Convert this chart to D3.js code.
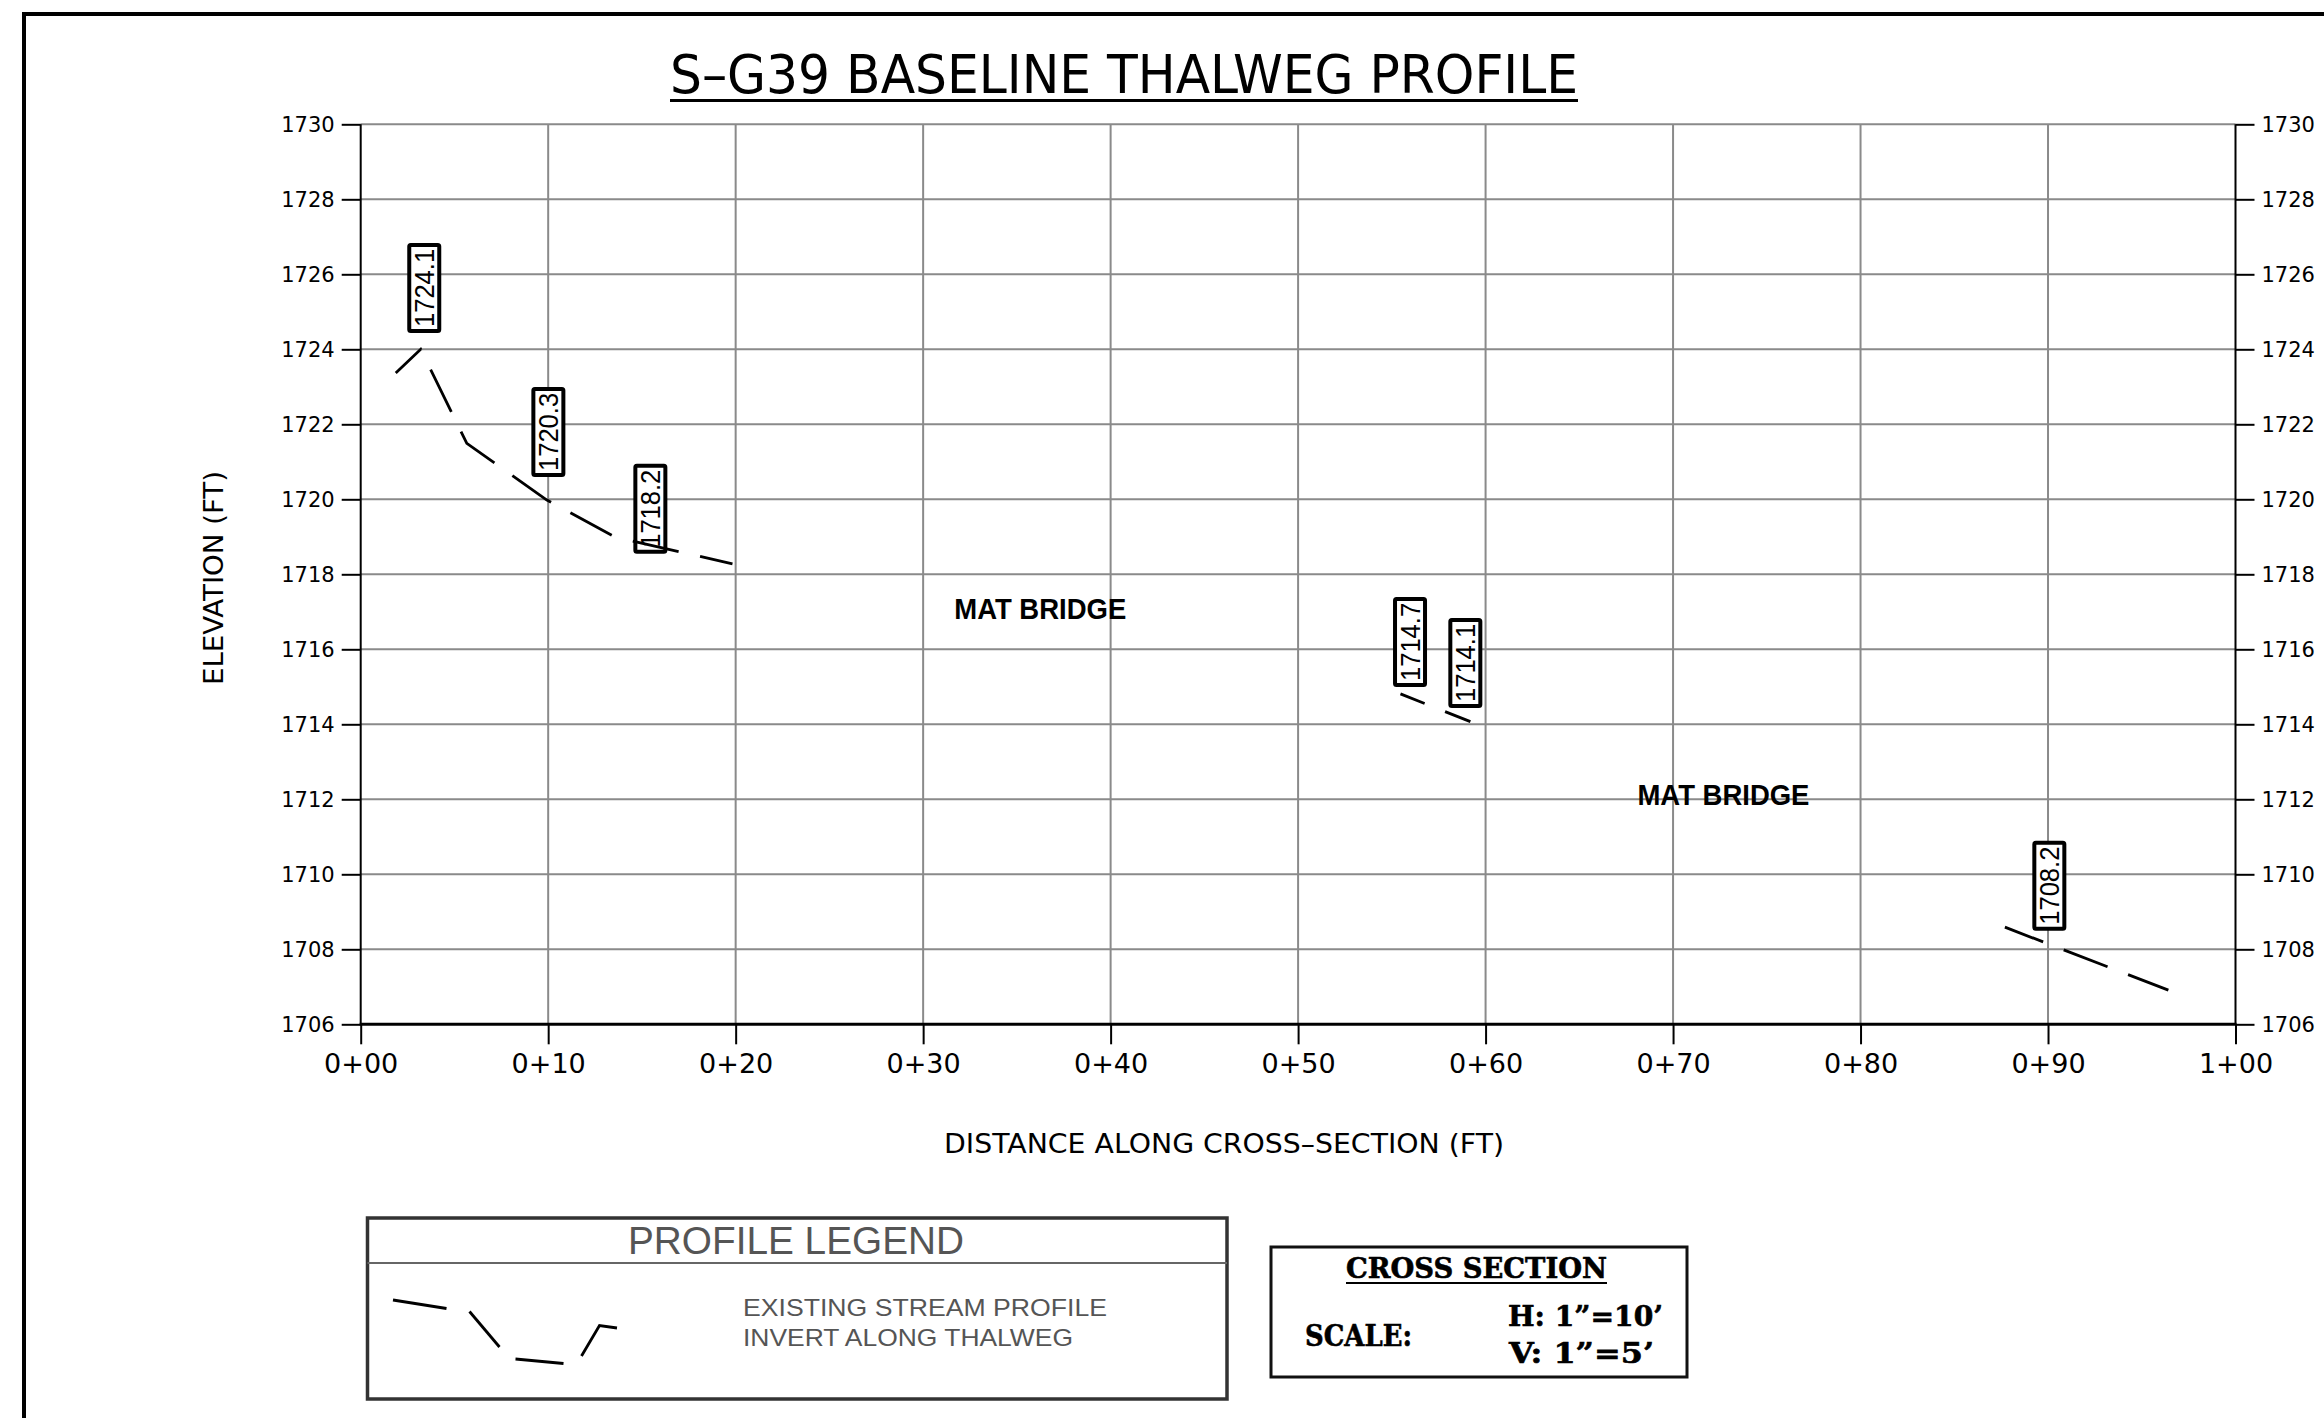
<!DOCTYPE html>
<html>
<head>
<meta charset="utf-8">
<script src="https://cdn.jsdelivr.net/npm/d3@7/dist/d3.min.js"></script>
<style>
  html, body { margin: 0; padding: 0; background: #fff; }
  svg { display: block; }
</style>
</head>
<body>
<svg id="chart"></svg>
<script>
const W = 2324, H = 1418;

// axis ticks
const elevTicks = [1706, 1708, 1710, 1712, 1714, 1716, 1718, 1720, 1722, 1724, 1726, 1728, 1730];
const stationTicks = [0, 10, 20, 30, 40, 50, 60, 70, 80, 90, 100];
const stationLabels = ['0+00', '0+10', '0+20', '0+30', '0+40', '0+50', '0+60', '0+70', '0+80', '0+90', '1+00'];

// thalweg profile, three surveyed reaches (station ft, elevation ft)
const reachNames = ['upstream', 'middle', 'downstream'];
const reachStations = [
  [1.87, 3.2, 5.66, 9.93, 13.58, 19.83],
  [55.46, 59.19],
  [87.7, 96.42]
];
const reachElevations = [
  [1723.37, 1724.0, 1721.49, 1719.98, 1718.99, 1718.28],
  [1714.81, 1714.07],
  [1708.59, 1706.91]
];

// boxed elevation callouts (station, elevation at box foot)
const calloutTexts = ['1724.1', '1720.3', '1718.2', '1714.7', '1714.1', '1708.2'];
const calloutStations = [3.39, 10.01, 15.45, 55.97, 58.92, 90.07];
const calloutElevations = [1724.49, 1720.65, 1718.6, 1715.05, 1714.49, 1708.55];

// notes
const noteTexts = ['MAT  BRIDGE', 'MAT  BRIDGE'];
const noteStations = [31.66, 68.1];
const noteElevations = [1716.8, 1711.85];

const svg = d3.select('#chart').attr('width', W).attr('height', H);
svg.append('rect').attr('width', W).attr('height', H).attr('fill', '#fff');

// sheet border (runs off the right/bottom edge)
svg.append('path')
  .attr('d', `M24,${H + 10} V14 H${W + 10}`)
  .attr('fill', 'none').attr('stroke', '#000').attr('stroke-width', 4);

const x = d3.scaleLinear().domain([0, 100]).range([360.7, 2235.5]);
const y = d3.scaleLinear().domain([1706, 1730]).range([1024.3, 124.3]);

const tickFont = "'DejaVu Sans', sans-serif";

// grid
const grid = svg.append('g');
grid.selectAll('line.v').data(stationTicks.filter(d => d > 0 && d < 100)).join('line')
  .attr('class', 'v')
  .attr('x1', d => x(d)).attr('x2', d => x(d))
  .attr('y1', y(1730)).attr('y2', y(1706))
  .attr('stroke', '#8a8a8a').attr('stroke-width', 2);
grid.selectAll('line.h').data(elevTicks.filter(d => d > 1706)).join('line')
  .attr('class', 'h')
  .attr('x1', x(0)).attr('x2', x(100))
  .attr('y1', d => y(d)).attr('y2', d => y(d))
  .attr('stroke', '#8a8a8a').attr('stroke-width', 2);

// axes
const styleAxis = (g, size) => {
  g.select('.domain').remove();
  g.selectAll('.tick line').attr('stroke', '#000').attr('stroke-width', 2);
  g.selectAll('.tick text')
    .attr('fill', '#000')
    .attr('font-family', tickFont)
    .attr('font-size', size);
};

svg.append('g')
  .attr('transform', `translate(${x(0)},0)`)
  .call(d3.axisLeft(y).tickValues(elevTicks).tickSize(19).tickPadding(7).tickFormat(d3.format('d')))
  .call(g => styleAxis(g, 21));

svg.append('g')
  .attr('transform', `translate(${x(100)},0)`)
  .call(d3.axisRight(y).tickValues(elevTicks).tickSize(19).tickPadding(7).tickFormat(d3.format('d')))
  .call(g => styleAxis(g, 21));

svg.append('g')
  .attr('transform', `translate(0,${y(1706)})`)
  .call(d3.axisBottom(x).tickValues(stationTicks).tickSize(20).tickFormat((d, i) => stationLabels[i]))
  .call(g => styleAxis(g, 27))
  .call(g => g.selectAll('.tick text').attr('y', 48.4).attr('dy', 0));

// axis lines
svg.append('line')
  .attr('x1', x(0)).attr('x2', x(0)).attr('y1', y(1730)).attr('y2', y(1706))
  .attr('stroke', '#000').attr('stroke-width', 2);
svg.append('line')
  .attr('x1', x(100)).attr('x2', x(100)).attr('y1', y(1730)).attr('y2', y(1706))
  .attr('stroke', '#000').attr('stroke-width', 2);
svg.append('line')
  .attr('x1', x(0) - 1).attr('x2', x(100) + 1).attr('y1', y(1706)).attr('y2', y(1706))
  .attr('stroke', '#000').attr('stroke-width', 3);

// title
svg.append('text')
  .attr('x', 1124).attr('y', 93)
  .attr('text-anchor', 'middle')
  .attr('font-family', "'DejaVu Sans Condensed', 'DejaVu Sans', sans-serif")
  .attr('font-size', 53)
  .attr('textLength', 908).attr('lengthAdjust', 'spacingAndGlyphs')
  .attr('fill', '#000')
  .text('S\u2013G39  BASELINE  THALWEG  PROFILE');
svg.append('line')
  .attr('x1', 670).attr('x2', 1578).attr('y1', 100.5).attr('y2', 100.5)
  .attr('stroke', '#000').attr('stroke-width', 3);

// axis titles
svg.append('text')
  .attr('x', 1224).attr('y', 1153)
  .attr('text-anchor', 'middle')
  .attr('font-family', tickFont).attr('font-size', 27)
  .attr('textLength', 560).attr('lengthAdjust', 'spacingAndGlyphs')
  .attr('fill', '#000')
  .text('DISTANCE  ALONG  CROSS\u2013SECTION  (FT)');

svg.append('text')
  .attr('transform', 'translate(223,578) rotate(-90)')
  .attr('text-anchor', 'middle')
  .attr('font-family', tickFont).attr('font-size', 26)
  .attr('textLength', 214).attr('lengthAdjust', 'spacingAndGlyphs')
  .attr('fill', '#000')
  .text('ELEVATION  (FT)');

// elevation callouts
const boxW = 30, boxH = 86;
const callouts = svg.append('g').selectAll('g')
  .data(calloutTexts.map((t, i) => ({ t, s: calloutStations[i], e: calloutElevations[i] })))
  .join('g');
callouts.append('rect')
  .attr('x', d => x(d.s) - boxW / 2)
  .attr('y', d => y(d.e) - boxH)
  .attr('width', boxW).attr('height', boxH)
  .attr('rx', 1.5)
  .attr('fill', '#fff').attr('stroke', '#000').attr('stroke-width', 4);
callouts.append('text')
  .attr('transform', d => `translate(${x(d.s) + 10},${y(d.e) - boxH / 2}) rotate(-90)`)
  .attr('text-anchor', 'middle')
  .attr('font-family', "'Liberation Sans', Arial, sans-serif")
  .attr('font-size', 27)
  .attr('textLength', 78).attr('lengthAdjust', 'spacingAndGlyphs')
  .attr('fill', '#000')
  .text(d => d.t);

// thalweg profile
const line = d3.line().x(d => x(d[0])).y(d => y(d[1]));
const dashOffsets = { upstream: 12, middle: 21, downstream: 6 };
svg.append('g').selectAll('path')
  .data(reachNames.map((n, i) => ({ n, pts: reachStations[i].map((s, j) => [s, reachElevations[i][j]]) })))
  .join('path')
  .attr('d', d => line(d.pts))
  .attr('fill', 'none')
  .attr('stroke', '#000')
  .attr('stroke-width', 2.8)
  .attr('stroke-dasharray', '47,22')
  .attr('stroke-dashoffset', d => dashOffsets[d.n]);

// notes
svg.append('g').selectAll('text')
  .data(noteTexts.map((t, i) => ({ t, s: noteStations[i], e: noteElevations[i] })))
  .join('text')
  .attr('x', d => x(d.s)).attr('y', d => y(d.e))
  .attr('font-family', "'Liberation Sans', Arial, sans-serif")
  .attr('font-weight', 'bold')
  .attr('font-size', 30)
  .attr('textLength', 172).attr('lengthAdjust', 'spacingAndGlyphs')
  .attr('fill', '#000')
  .text(d => d.t);

// profile legend
const leg = { x: 367.5, y: 1218, w: 859.5, h: 181 };
const lg = svg.append('g');
lg.append('rect')
  .attr('x', leg.x).attr('y', leg.y).attr('width', leg.w).attr('height', leg.h)
  .attr('fill', '#fff').attr('stroke', '#333').attr('stroke-width', 3.5);
lg.append('line')
  .attr('x1', leg.x).attr('x2', leg.x + leg.w).attr('y1', leg.y + 45).attr('y2', leg.y + 45)
  .attr('stroke', '#666').attr('stroke-width', 2);
lg.append('text')
  .attr('x', 796).attr('y', leg.y + 36)
  .attr('text-anchor', 'middle')
  .attr('font-family', "'Liberation Sans', Arial, sans-serif")
  .attr('font-size', 38)
  .attr('textLength', 336).attr('lengthAdjust', 'spacingAndGlyphs')
  .attr('fill', '#555')
  .text('PROFILE LEGEND');
const legLines = ['EXISTING  STREAM PROFILE', 'INVERT ALONG THALWEG'];
const legLineLen = [364, 330];
lg.selectAll('text.item').data(legLines).join('text')
  .attr('class', 'item')
  .attr('x', 743).attr('y', (d, i) => leg.y + 98 + i * 30)
  .attr('font-family', "'Liberation Sans', Arial, sans-serif")
  .attr('font-size', 24)
  .attr('textLength', (d, i) => legLineLen[i]).attr('lengthAdjust', 'spacingAndGlyphs')
  .attr('fill', '#555')
  .text(d => d);
// sample symbol: dashed "V" channel, offsets from the legend corner
const legSample = [
  [[25.5, 82], [79, 90.5]],
  [[102, 93.5], [132, 129]],
  [[148, 141], [196, 145.5]],
  [[214, 138], [232, 107.5], [249.5, 110]]
];
lg.selectAll('path.sample').data(legSample).join('path')
  .attr('class', 'sample')
  .attr('d', d3.line().x(p => leg.x + p[0]).y(p => leg.y + p[1]))
  .attr('fill', 'none').attr('stroke', '#000').attr('stroke-width', 2.8);

// scale block
const sb = { x: 1271, y: 1247, w: 416, h: 130 };
const sg = svg.append('g');
const serif = "'DejaVu Serif', 'Liberation Serif', serif";
sg.append('rect')
  .attr('x', sb.x).attr('y', sb.y).attr('width', sb.w).attr('height', sb.h)
  .attr('fill', '#fff').attr('stroke', '#111').attr('stroke-width', 3);
const scaleTexts = ['CROSS  SECTION', 'SCALE:', 'H:  1\u201d=10\u2019', 'V:  1\u201d=5\u2019'];
const scaleX = [1346, 1305, 1508, 1509];
const scaleY = [1278, 1346, 1326, 1363];
const scaleSize = [28, 30, 28, 28];
const scaleLen = [261, 107, 155, 145];
sg.selectAll('text').data(scaleTexts).join('text')
  .attr('x', (d, i) => scaleX[i]).attr('y', (d, i) => scaleY[i])
  .attr('font-family', serif).attr('font-weight', 'bold')
  .attr('font-size', (d, i) => scaleSize[i])
  .attr('textLength', (d, i) => scaleLen[i]).attr('lengthAdjust', 'spacingAndGlyphs')
  .attr('stroke', '#000').attr('stroke-width', 0.6)
  .attr('fill', '#000')
  .text(d => d);
sg.append('line')
  .attr('x1', 1346).attr('x2', 1607).attr('y1', 1283).attr('y2', 1283)
  .attr('stroke', '#000').attr('stroke-width', 2);
</script>
</body>
</html>
